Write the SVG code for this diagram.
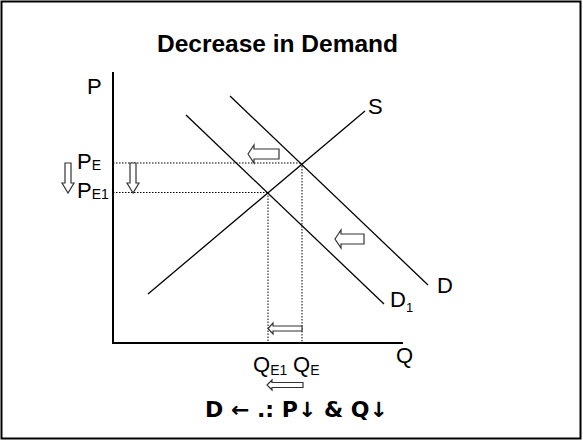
<svg xmlns="http://www.w3.org/2000/svg" width="583" height="441" viewBox="0 0 583 441">
<style>
.t{font-family:"Liberation Sans",Arial,sans-serif;fill:#000}
.b{font-weight:bold}
.ln{stroke:#000;stroke-width:1.3;fill:none}
.ax{stroke:#000;stroke-width:2;fill:none}
.dot{stroke:#000;stroke-width:1;stroke-dasharray:1.5,1.5;fill:none}
.ar{fill:#fff;stroke:#333;stroke-width:1.2;stroke-linejoin:miter}
</style>
<rect x="1.5" y="1.5" width="579" height="437" fill="#fff" stroke="#000" stroke-width="2"/>
<text class="t b" x="157" y="52" font-size="23" textLength="241" lengthAdjust="spacingAndGlyphs">Decrease in Demand</text>
<g id="axes">
<path class="ax" d="M113,72 V343 H403"/>
<text class="t" x="87" y="94" font-size="22">P</text>
<text class="t" x="396" y="363" font-size="22">Q</text>
</g>
<g id="connectors">
<path class="dot" d="M113,163 H302 M113,192.5 H268 M302,163 V343 M268,192.5 V343"/>
</g>
<g id="supply">
<line class="ln" x1="148" y1="294" x2="365" y2="111"/>
<text class="t" x="368" y="114" font-size="22">S</text>
</g>
<g id="demand">
<line class="ln" x1="230" y1="96" x2="428" y2="285"/>
<text class="t" x="437" y="293" font-size="22">D</text>
</g>
<g id="demand1">
<line class="ln" x1="186" y1="115" x2="384" y2="304"/>
<text class="t" x="390" y="307" font-size="22">D<tspan font-size="13" dy="5">1</tspan></text>
</g>
<g id="labels">
<text class="t" x="77" y="169" font-size="22">P<tspan font-size="14" dy="1">E</tspan></text>
<text class="t" x="77" y="198" font-size="22">P<tspan font-size="14" dy="1">E1</tspan></text>
<text class="t" x="253" y="372" font-size="22">Q<tspan font-size="14" dy="3">E1</tspan></text>
<text class="t" x="293" y="372" font-size="22">Q<tspan font-size="14" dy="3">E</tspan></text>
</g>
<g id="arrows">
<path class="ar" d="M248,154 L254,145 V149 H279 V159 H254 V163 Z"/>
<path class="ar" d="M335,239 L341,230 V234 H364 V244 H341 V248 Z"/>
<path class="ar" d="M268,328.5 L273,323 V326 H302 V331 H273 V334 Z"/>
<path class="ar" d="M267,385 L272,380 V382.5 H303 V387.5 H272 V390 Z"/>
<path class="ar" d="M68,193 L62,183 H65 V163 H71 V183 H74 Z"/>
<path class="ar" d="M133,193 L127,183 H130 V163 H136 V183 H139 Z"/>
</g>
<text class="b" x="205" y="417" font-size="21" font-family="'DejaVu Sans',sans-serif" textLength="183" lengthAdjust="spacingAndGlyphs">D ← .: P↓ &amp; Q↓</text>
</svg>
